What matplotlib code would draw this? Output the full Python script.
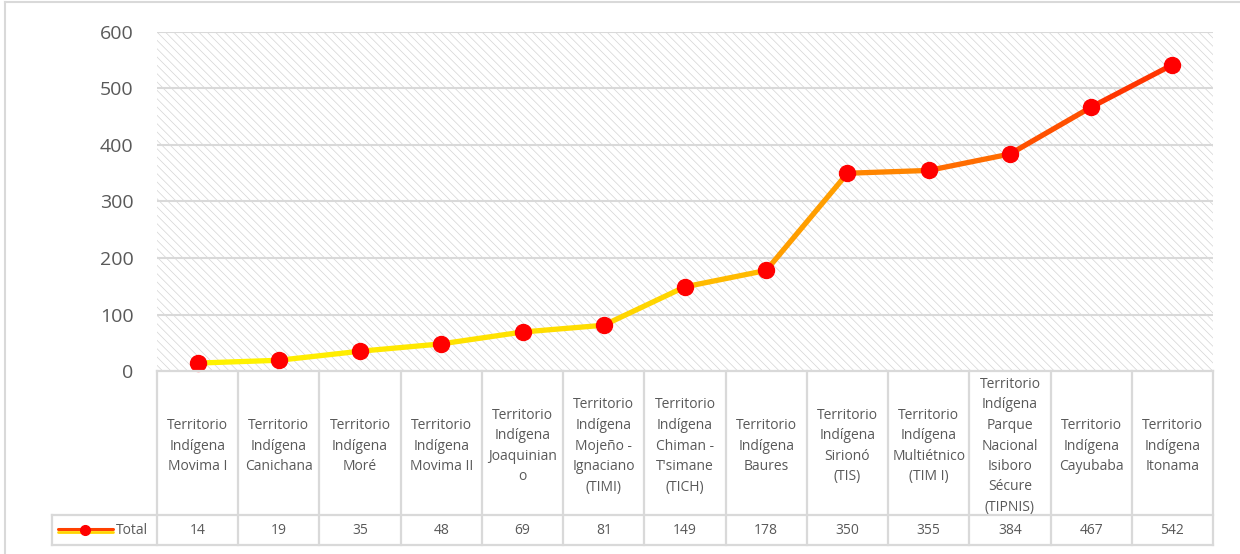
#!/usr/bin/env python3
"""Line chart with data table: Territorios Indígenas, Total."""

import numpy as np
import matplotlib
matplotlib.use("Agg")
import matplotlib.pyplot as plt
from matplotlib.collections import LineCollection
from matplotlib.colors import LinearSegmentedColormap
from matplotlib.lines import Line2D
from matplotlib.patches import Rectangle

# ---------------------------------------------------------------------------
# Data
# ---------------------------------------------------------------------------

CATEGORIES = [
    "Territorio\nIndígena\nMovima I",
    "Territorio\nIndígena\nCanichana",
    "Territorio\nIndígena\nMoré",
    "Territorio\nIndígena\nMovima II",
    "Territorio\nIndígena\nJoaquinian\no",
    "Territorio\nIndígena\nMojeño -\nIgnaciano\n(TIMI)",
    "Territorio\nIndígena\nChiman -\nT'simane\n(TICH)",
    "Territorio\nIndígena\nBaures",
    "Territorio\nIndígena\nSirionó\n(TIS)",
    "Territorio\nIndígena\nMultiétnico\n(TIM I)",
    "Territorio\nIndígena\nParque\nNacional\nIsiboro\nSécure\n(TIPNIS)",
    "Territorio\nIndígena\nCayubaba",
    "Territorio\nIndígena\nItonama",
]
TOTAL = [14, 19, 35, 48, 69, 81, 149, 178, 350, 355, 384, 467, 542]
SERIES_NAME = "Total"
Y_TICKS = [0, 100, 200, 300, 400, 500, 600]

W, H = 1240, 554
GRID = "#d9d9d9"
TEXT = "#595959"
FONT = "Open Sans"

GRAD = LinearSegmentedColormap.from_list(
    "yor", [(0.0, "#fff500"), (0.45, "#ffd800"), (0.62, "#ffa000"),
            (0.8, "#ff6a00"), (1.0, "#ff2800")])


def fx(px):
    return px / W


def fy(py):
    return 1 - py / H


def main():
    plt.rcParams["hatch.linewidth"] = 0.5
    plt.rcParams["hatch.color"] = "#d4d4d4"
    fig = plt.figure(figsize=(W / 100, H / 100), dpi=100)
    fig.patch.set_facecolor("white")

    left, right, top, bottom = 157, 1213, 32, 371
    ax = fig.add_axes([fx(left), fy(bottom), fx(right - left), (bottom - top) / H])
    n = len(TOTAL)
    x = np.arange(n)
    ax.set_xlim(-0.5, n - 0.5)
    ax.set_ylim(Y_TICKS[0], Y_TICKS[-1])

    # hatched plot area
    ax.add_patch(Rectangle((0, 0), 1, 1, transform=ax.transAxes, facecolor="white",
                           edgecolor="#d4d4d4", hatch="\\\\\\\\", linewidth=0, zorder=0))
    for t in Y_TICKS[1:]:
        ax.axhline(t, color=GRID, linewidth=1.5, zorder=1)

    for s in ax.spines.values():
        s.set_visible(False)
    ax.set_xticks([])
    ax.set_yticks(Y_TICKS)
    ax.tick_params(axis="y", length=0, pad=17, labelsize=14, labelcolor=TEXT)
    for lab in ax.get_yticklabels():
        lab.set_fontfamily(FONT)

    # gradient line
    pts = np.column_stack([x, TOTAL])
    segs = np.stack([pts[:-1], pts[1:]], axis=1)
    mids = (x[:-1] + 0.5) / (n - 1)
    lc = LineCollection(segs, colors=GRAD(mids), linewidths=3.8, capstyle="round",
                        joinstyle="round", zorder=3)
    ax.add_collection(lc)
    ax.plot(x, TOTAL, "o", color="#ff0000", markersize=11.5, zorder=4, clip_on=False)

    # data table
    hdr_bot, val_bot, leg_left = 515, 545, 52
    col_w = (right - left) / n
    edges = [left + i * col_w for i in range(n + 1)]
    lw = 1.6

    def hline(y, x0, x1):
        fig.add_artist(Line2D([fx(x0), fx(x1)], [fy(y), fy(y)], color=GRID, linewidth=lw))

    def vline(xx, y0, y1):
        fig.add_artist(Line2D([fx(xx), fx(xx)], [fy(y0), fy(y1)], color=GRID, linewidth=lw))

    hline(bottom, left, right)
    hline(hdr_bot, leg_left, right)
    hline(val_bot, leg_left, right)
    for e in edges:
        vline(e, bottom, val_bot)
    vline(leg_left, hdr_bot, val_bot)

    for i, (cat, v) in enumerate(zip(CATEGORIES, TOTAL)):
        cx = edges[i] + col_w / 2
        fig.text(fx(cx), fy((bottom + hdr_bot) / 2 + 3), cat, ha="center", va="center",
                 fontsize=10, color=TEXT, family=FONT, linespacing=1.5)
        fig.text(fx(cx), fy((hdr_bot + val_bot) / 2), str(v), ha="center", va="center",
                 fontsize=10, color=TEXT, family=FONT)

    # legend key
    ky = (hdr_bot + val_bot) / 2
    fig.add_artist(Line2D([fx(58), fx(113)], [fy(ky - 1.2), fy(ky - 1.2)],
                          color="#ff4000", linewidth=2.2, solid_capstyle="round"))
    fig.add_artist(Line2D([fx(58), fx(113)], [fy(ky + 1.6), fy(ky + 1.6)],
                          color="#ffd400", linewidth=2.0, solid_capstyle="round"))
    fig.add_artist(Line2D([fx(85)], [fy(ky)], marker="o", color="#ff0000",
                          markersize=7, linestyle="none"))
    fig.text(fx(116), fy(ky), SERIES_NAME, ha="left", va="center", fontsize=10,
             color=TEXT, family=FONT)

    # outer chart border (top and left visible)
    fig.add_artist(Line2D([fx(5), fx(W)], [fy(2), fy(2)], color=GRID, linewidth=1.5))
    fig.add_artist(Line2D([fx(5), fx(5)], [fy(2), fy(H)], color=GRID, linewidth=1.5))

    fig.savefig("out.png", dpi=100, facecolor="white")
    plt.close(fig)


if __name__ == "__main__":
    main()
